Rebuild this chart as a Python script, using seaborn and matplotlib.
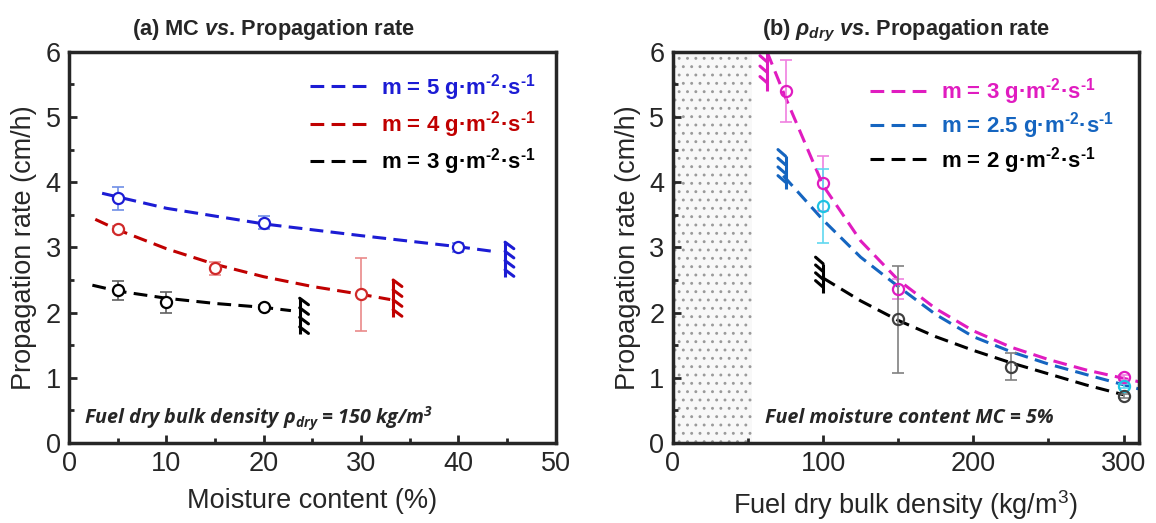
import numpy as np
import pandas as pd
import seaborn as sns
import matplotlib.pyplot as plt

sns.set_style("ticks")
plt.rcParams['font.family'] = ['Liberation Sans', 'DejaVu Sans']
plt.rcParams['mathtext.fontset'] = 'custom'
plt.rcParams['mathtext.it'] = 'Liberation Sans:italic:bold'
plt.rcParams['mathtext.rm'] = 'Liberation Sans:bold'
plt.rcParams['mathtext.default'] = 'regular'
plt.rcParams['hatch.linewidth'] = 0.9

# ---- (a) moisture content vs propagation rate (rho_dry = 150) ----
mc_m5 = [5, 20, 40]
rate_m5 = [3.75, 3.38, 3.00]
err_m5 = [0.17, 0.10, 0.07]
mc_m4 = [5, 15, 30]
rate_m4 = [3.28, 2.68, 2.28]
err_m4 = [0.05, 0.10, 0.56]
mc_m3 = [5, 10, 20]
rate_m3 = [2.34, 2.16, 2.08]
err_m3 = [0.14, 0.16, 0.03]

# fitted (dashed) curves
fit_m5_x = [3.4, 10, 20, 30, 40, 44]
fit_m5_y = [3.83, 3.60, 3.36, 3.18, 3.01, 2.93]
fit_m4_x = [2.7, 5, 10, 15, 20, 25, 30, 33]
fit_m4_y = [3.43, 3.27, 2.98, 2.74, 2.55, 2.40, 2.28, 2.20]
fit_m3_x = [2.4, 5, 10, 15, 20, 22.8]
fit_m3_y = [2.42, 2.33, 2.22, 2.14, 2.08, 2.03]

# extinction limits (x, y_low, y_high)
wall_a = {"m5": (44.8, 2.55, 3.08), "m4": (33.3, 1.93, 2.50), "m3": (23.7, 1.67, 2.22)}

# ---- (b) dry bulk density vs propagation rate (MC = 5%) ----
rho_m3 = [75, 100, 150, 300]
rate_b_m3 = [5.40, 3.98, 2.36, 1.01]
err_b_m3 = [0.47, 0.42, 0.15, 0.04]
rho_m25 = [100, 300]
rate_b_m25 = [3.63, 0.87]
err_b_m25 = [0.57, 0.03]
rho_m2 = [150, 225, 300]
rate_b_m2 = [1.90, 1.17, 0.72]
err_b_m2 = [0.82, 0.21, 0.03]

fit_b_m3_x = [62.7, 75, 100, 125, 150, 175, 200, 225, 250, 275, 310]
fit_b_m3_y = [6.00, 5.30, 3.95, 3.10, 2.50, 2.06, 1.72, 1.47, 1.28, 1.12, 0.94]
fit_b_m25_x = [73.5, 100, 125, 150, 175, 200, 225, 250, 275, 310]
fit_b_m25_y = [4.10, 3.42, 2.85, 2.40, 1.97, 1.63, 1.40, 1.21, 1.05, 0.83]
fit_b_m2_x = [100, 125, 150, 175, 200, 225, 250, 275, 300]
fit_b_m2_y = [2.53, 2.18, 1.88, 1.63, 1.42, 1.23, 1.06, 0.89, 0.74]

wall_b = {"m3": (63, 5.40, 6.00), "m25": (75, 3.90, 4.40), "m2": (100, 2.30, 2.75)}
shade_rho = (0, 53)

blue, red, black = '#1c1cd4', '#c00000', '#000000'
magenta, blue2, cyan = '#e01cc0', '#1565c0', '#1ec3e3'
dash = (4.5, 2.4)


def wall(ax, x, y0, y1, color, dx, dy):
    ax.plot([x, x], [y0, y1], color=color, lw=2.2, solid_capstyle='butt')
    for yy in np.linspace(y1, y0 + (y1 - y0) * 0.2, 4):
        ax.plot([x, x + dx], [yy, yy - dy], color=color, lw=2.2)


def style(ax):
    for s in ax.spines.values():
        s.set_linewidth(2.5)
        s.set_visible(True)
    ax.tick_params(which='major', direction='in', length=6, width=2, labelsize=19.5, pad=6)
    ax.tick_params(which='minor', direction='in', length=3.5, width=2)
    ax.set_ylim(0, 6)
    ax.set_yticks(range(7))
    ax.set_yticks(np.arange(0.5, 6, 1), minor=True)
    ax.set_ylabel('Propagation rate (cm/h)', fontsize=19.5, labelpad=6)


def mlabel(v):
    return 'm = ' + v + ' g·m$^{\\text{-2}}$·s$^{\\text{-1}}$'


fig = plt.figure(figsize=(11.56, 5.23), dpi=100)
ax1 = fig.add_axes([0.0597, 0.153, 0.421, 0.748])
ax2 = fig.add_axes([0.582, 0.153, 0.403, 0.748])

# panel a
curves_a = [(fit_m5_x, fit_m5_y, blue, mlabel('5')),
            (fit_m4_x, fit_m4_y, red, mlabel('4')),
            (fit_m3_x, fit_m3_y, black, mlabel('3'))]
for fx, fy, c, lab in curves_a:
    sns.lineplot(x=fx, y=fy, ax=ax1, color=c, lw=2.2, label=lab)
    ax1.lines[-1].set_dashes(dash)

pts_a = [(mc_m5, rate_m5, err_m5, blue, '#6f8fe6'),
         (mc_m4, rate_m4, err_m4, '#d02a2a', '#ea8a8a'),
         (mc_m3, rate_m3, err_m3, black, '#606060')]
for x, y, e, c, ec in pts_a:
    ax1.errorbar(x, y, yerr=e, fmt='none', ecolor=ec, elinewidth=1.2, capsize=4, capthick=1.2, zorder=3)
    ax1.plot(x, y, 'o', ms=8, mfc='white', mec=c, mew=1.6, zorder=4)

wall(ax1, *wall_a["m5"], blue, 0.9, 0.1)
wall(ax1, *wall_a["m4"], red, 0.9, 0.1)
wall(ax1, *wall_a["m3"], black, 0.9, 0.1)

style(ax1)
ax1.set_xlim(0, 50)
ax1.set_xticks(range(0, 51, 10))
ax1.set_xticks(range(5, 50, 10), minor=True)
ax1.set_xlabel('Moisture content (%)', fontsize=19.5, labelpad=8)
ax1.set_title('(a) MC $\\mathit{vs}$. Propagation rate', fontsize=15.7, fontweight='bold', pad=12, x=0.42)
leg = ax1.legend(loc='upper right', frameon=False, handlelength=2.6, handletextpad=0.6,
                 labelspacing=0.28, prop={'weight': 'bold', 'size': 16}, borderaxespad=0.5)
for t, (_, _, c, _) in zip(leg.get_texts(), curves_a):
    t.set_color(c)
ax1.text(0.03, 0.05, 'Fuel dry bulk density $\\rho_{dry}$ = 150 kg/m$^3$', transform=ax1.transAxes,
         fontsize=14.2, fontweight='bold', fontstyle='italic', family=['Open Sans', 'DejaVu Sans'])

# panel b
ax2.axvspan(*shade_rho, facecolor='#f8f8f8', edgecolor='#9a9a9a', hatch='..', lw=0, zorder=0)
curves_b = [(fit_b_m3_x, fit_b_m3_y, magenta, mlabel('3')),
            (fit_b_m25_x, fit_b_m25_y, blue2, mlabel('2.5')),
            (fit_b_m2_x, fit_b_m2_y, black, mlabel('2'))]
for fx, fy, c, lab in curves_b:
    sns.lineplot(x=fx, y=fy, ax=ax2, color=c, lw=2.2, label=lab)
    ax2.lines[-1].set_dashes(dash)

pts_b = [(rho_m3, rate_b_m3, err_b_m3, magenta, '#f080e0'),
         (rho_m25, rate_b_m25, err_b_m25, cyan, '#60d8f0'),
         (rho_m2, rate_b_m2, err_b_m2, '#404040', '#808080')]
for x, y, e, c, ec in pts_b:
    ax2.errorbar(x, y, yerr=e, fmt='none', ecolor=ec, elinewidth=1.2, capsize=4, capthick=1.2, zorder=3)
    ax2.plot(x, y, 'o', ms=8, mfc='none', mec=c, mew=1.6, zorder=4)

wall(ax2, *wall_b["m3"], magenta, -5, -0.1)
wall(ax2, *wall_b["m25"], blue2, -5, -0.1)
wall(ax2, *wall_b["m2"], black, -5, -0.1)

style(ax2)
ax2.set_xlim(0, 310)
ax2.set_xticks([0, 100, 200, 300])
ax2.set_xticks([50, 150, 250], minor=True)
ax2.set_xlabel('Fuel dry bulk density (kg/m$^3$)', fontsize=19.5, labelpad=8)
ax2.set_title('(b) $\\mathit{\\rho_{dry}}$ $\\mathit{vs}$. Propagation rate', fontsize=15.7,
              fontweight='bold', pad=12)
leg2 = ax2.legend(loc='upper right', frameon=False, handlelength=2.6, handletextpad=0.6,
                  labelspacing=0.15, prop={'weight': 'bold', 'size': 16}, borderaxespad=0.7)
for t, (_, _, c, _) in zip(leg2.get_texts(), curves_b):
    t.set_color(c)
ax2.text(0.197, 0.05, 'Fuel moisture content MC = 5%', transform=ax2.transAxes,
         fontsize=14.2, fontweight='bold', fontstyle='italic', family=['Open Sans', 'DejaVu Sans'])

fig.savefig('out.png', dpi=100)
